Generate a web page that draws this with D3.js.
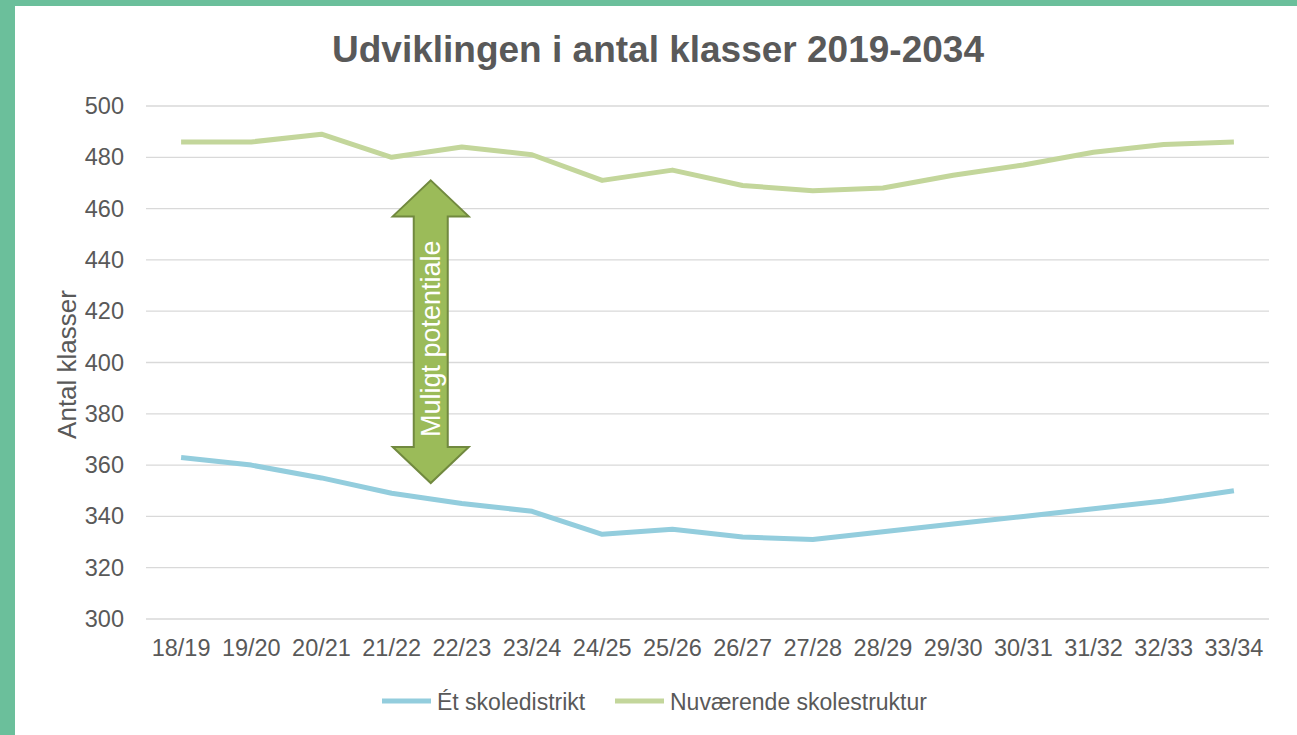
<!DOCTYPE html>
<html>
<head>
<meta charset="utf-8">
<script src="https://cdn.jsdelivr.net/npm/d3@7"></script>
<style>
  body { margin: 0; background: #6bbf9b; }
  svg { display: block; font-family: "Liberation Sans", Arial, sans-serif; }
</style>
</head>
<body>
<div id="chart"></div>
<script>
// data
const years = ["18/19", "19/20", "20/21", "21/22", "22/23", "23/24", "24/25", "25/26",
               "26/27", "27/28", "28/29", "29/30", "30/31", "31/32", "32/33", "33/34"]
const etSkoledistrikt = [363, 360, 355, 349, 345, 342, 333, 335, 332, 331, 334, 337, 340, 343, 346, 350]
const nuvaerende = [486, 486, 489, 480, 484, 481, 471, 475, 469, 467, 468, 473, 477, 482, 485, 486]
const yTicks = [300, 320, 340, 360, 380, 400, 420, 440, 460, 480, 500]
const seriesNames = ["Ét skoledistrikt", "Nuværende skolestruktur"]
const arrowRange = [471, 353]   // top and bottom of the annotation arrow, in y units

const width = 1297
const height = 735
const margins = { top: 106, bottom: 116, left: 146, right: 28 }

let svg = d3.select('div#chart').append('svg').attr('width', width).attr('height', height)

// green frame left/top, white card
svg.append('rect').attr('width', width).attr('height', height).attr('fill', '#6bbf9b')
svg.append('rect').attr('x', 15).attr('y', 6).attr('width', width - 15).attr('height', height - 6).attr('fill', '#fff')

let x = d3.scaleBand().domain(years).range([margins.left, width - margins.right])
let y = d3.scaleLinear().domain([300, 500]).range([height - margins.bottom, margins.top])

// gridlines
svg.append('g').selectAll('line').data(yTicks).join('line')
    .attr('x1', margins.left).attr('x2', width - margins.right)
    .attr('y1', d => y(d)).attr('y2', d => y(d))
    .attr('stroke', '#d9d9d9').attr('stroke-width', 1.3)

// axes (no domain lines, no ticks)
let yAxisGroup = svg.append('g').attr('transform', `translate(${margins.left - 22}, 0)`)
    .call(d3.axisLeft(y).tickValues(yTicks).tickSize(0).tickPadding(0))
yAxisGroup.select('.domain').remove()
yAxisGroup.selectAll('text').attr('font-size', 23.5).attr('fill', '#595959').attr('font-family', null)

let xAxisGroup = svg.append('g').attr('transform', `translate(0, ${height - margins.bottom + 12})`)
    .call(d3.axisBottom(x).tickSize(0).tickPadding(8))
xAxisGroup.select('.domain').remove()
xAxisGroup.selectAll('text').attr('font-size', 23.5).attr('fill', '#595959').attr('font-family', null)

// lines
const colours = ['#93cddd', '#c3d69b']
const line = d3.line().x((d, i) => x(years[i]) + x.bandwidth() / 2).y(d => y(d))
;[etSkoledistrikt, nuvaerende].forEach((s, i) => {
    svg.append('path').datum(s).attr('d', line)
        .attr('fill', 'none').attr('stroke', colours[i]).attr('stroke-width', 5)
        .attr('stroke-linejoin', 'round')
})

// double arrow annotation
const ax = (x(years[3]) + x(years[4])) / 2 + x.bandwidth() / 2 + 4
const yTop = y(arrowRange[0]), yBot = y(arrowRange[1])
const headW = 38, shaftW = 17, headH = 36
const pts = [
    [ax, yTop], [ax + headW, yTop + headH], [ax + shaftW, yTop + headH],
    [ax + shaftW, yBot - headH], [ax + headW, yBot - headH], [ax, yBot],
    [ax - headW, yBot - headH], [ax - shaftW, yBot - headH],
    [ax - shaftW, yTop + headH], [ax - headW, yTop + headH]
]
svg.append('polygon').attr('points', pts.map(p => p.join(',')).join(' '))
    .attr('fill', '#9bbb59').attr('stroke', '#71893f').attr('stroke-width', 2)
    .attr('stroke-linejoin', 'miter')
svg.append('text')
    .attr('transform', `translate(${ax + 9}, ${(yTop + yBot) / 2 + 7}) rotate(-90)`)
    .attr('text-anchor', 'middle').attr('font-size', 27).attr('fill', '#fff')
    .text('Muligt potentiale')

// title
svg.append('text').attr('x', 658).attr('y', 62).attr('text-anchor', 'middle')
    .attr('font-size', 37).attr('font-weight', 'bold').attr('fill', '#595959')
    .text('Udviklingen i antal klasser 2019-2034')

// y label
svg.append('text').attr('transform', `translate(76, ${(y(300) + y(500)) / 2 + 2}) rotate(-90)`)
    .attr('text-anchor', 'middle').attr('font-size', 26).attr('fill', '#595959')
    .text('Antal klasser')

// legend
const legendX = [382, 615]
seriesNames.forEach((n, i) => {
    let g = svg.append('g').attr('transform', `translate(${legendX[i]}, 701)`)
    g.append('line').attr('x1', 0).attr('x2', 49).attr('stroke', colours[i]).attr('stroke-width', 5)
    g.append('text').attr('x', 55).attr('y', 9).attr('font-size', 23).attr('fill', '#595959').text(n)
})
</script>
</body>
</html>
